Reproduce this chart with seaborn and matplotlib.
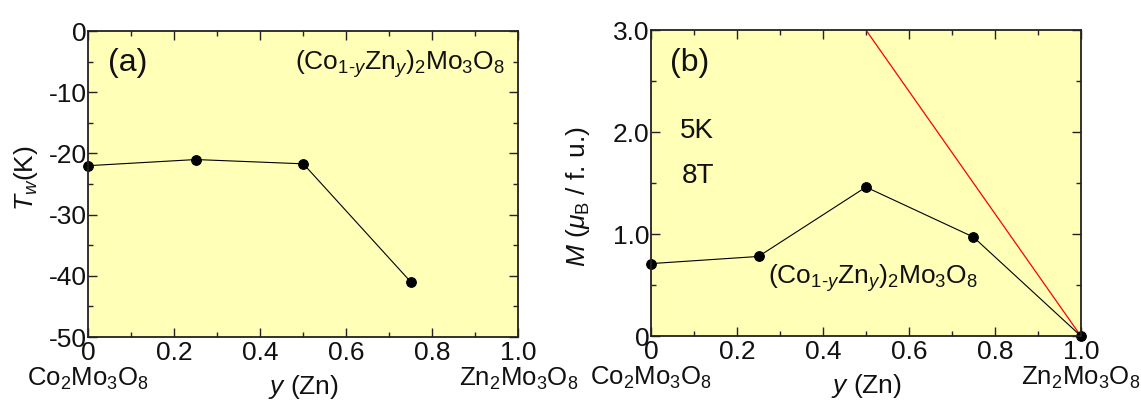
import matplotlib
matplotlib.use("Agg")
import matplotlib.pyplot as plt
import matplotlib.transforms as mtransforms
from matplotlib.ticker import FixedLocator, MultipleLocator
import seaborn as sns

# Weiss temperature vs Zn content
y_tw = [0.0, 0.25, 0.5, 0.75]
tw = [-22.0, -21.0, -21.7, -41.0]

# Magnetization at 5 K, 8 T vs Zn content
y_m = [0.0, 0.25, 0.5, 0.75, 1.0]
mag = [0.71, 0.78, 1.46, 0.97, 0.0]

# Reference line
ref_x = [0.5, 1.0]
ref_m = [3.0, 0.0]

x_ticks = [0.0, 0.2, 0.4, 0.6, 0.8, 1.0]
x_ticklabels = ["0", "0.2", "0.4", "0.6", "0.8", "1.0"]
tw_ticks = [0, -10, -20, -30, -40, -50]
tw_ticklabels = ["0", "-10", "-20", "-30", "-40", "-50"]
m_ticks = [0.0, 1.0, 2.0, 3.0]
m_ticklabels = ["0", "1.0", "2.0", "3.0"]

sns.set_theme(style="ticks")
plt.rcParams["font.family"] = ["Liberation Sans", "DejaVu Sans"]
plt.rcParams["mathtext.fontset"] = "custom"
plt.rcParams["mathtext.rm"] = "Liberation Sans"
plt.rcParams["mathtext.it"] = "Liberation Sans:italic"
plt.rcParams["mathtext.bf"] = "Liberation Sans:bold"
plt.rcParams["axes.unicode_minus"] = False

BG = "#FFFFB8"
INK = "#111111"
TICK_FS = 19
LABEL_FS = 19
COMP_FS = 18.5

fig = plt.figure(figsize=(11.41, 4.04), dpi=100)
ax1 = fig.add_axes([0.0775, 0.1658, 0.3767, 0.7574])
ax2 = fig.add_axes([0.5706, 0.1683, 0.3767, 0.7574])

formula = r"(Co$_{1\text{-}y}$Zn$_{y}$)$_{2}$Mo$_{3}$O$_{8}$"
co = r"Co$_{2}$Mo$_{3}$O$_{8}$"
zn = r"Zn$_{2}$Mo$_{3}$O$_{8}$"


def style_axes(ax, yticks, yticklabels, yminor):
    ax.set_facecolor(BG)
    ax.set_xlim(0, 1)
    ax.xaxis.set_major_locator(FixedLocator(x_ticks))
    ax.set_xticklabels(x_ticklabels)
    ax.xaxis.set_minor_locator(MultipleLocator(0.1))
    ax.yaxis.set_major_locator(FixedLocator(yticks))
    ax.set_yticklabels(yticklabels)
    ax.yaxis.set_minor_locator(MultipleLocator(yminor))
    ax.tick_params(which="both", direction="in", top=True, right=True,
                   color="#222222", width=1.0, labelsize=TICK_FS,
                   labelcolor=INK)
    ax.tick_params(which="major", length=6.5)
    ax.tick_params(which="minor", length=3.5)
    ax.tick_params(axis="y", pad=1)
    ax.tick_params(axis="x", pad=3)
    for s in ax.spines.values():
        s.set_linewidth(1.3)
        s.set_color("#222222")
    ax.set_xlabel(r"$y$ (Zn)", fontsize=LABEL_FS, color=INK)
    ax.xaxis.set_label_coords(0.5, -0.118)
    trans = mtransforms.blended_transform_factory(ax.transData, ax.transAxes)
    ax.text(0.0, -0.138, co, transform=trans, ha="center", va="center",
            fontsize=COMP_FS, color=INK, clip_on=False)
    ax.text(1.0, -0.138, zn, transform=trans, ha="center", va="center",
            fontsize=COMP_FS, color=INK, clip_on=False)


# (a) Weiss temperature
style_axes(ax1, tw_ticks, tw_ticklabels, 5)
ax1.set_ylim(-50, 0)
sns.lineplot(x=y_tw, y=tw, ax=ax1, color="black", linewidth=0.8,
             marker="o", markersize=7, markeredgecolor="black",
             markerfacecolor="black", clip_on=False)
ax1.set_ylabel(r"$T_w$(K)", fontsize=LABEL_FS, color=INK)
ax1.yaxis.set_label_coords(-0.113, 0.519)
ax1.text(0.046, 0.894, "(a)", transform=ax1.transAxes, ha="left",
         va="center", fontsize=23, color=INK)
ax1.text(0.969, 0.892, formula, transform=ax1.transAxes, ha="right",
         va="center", fontsize=19, color=INK)

# (b) Magnetization
style_axes(ax2, m_ticks, m_ticklabels, 0.5)
ax2.set_ylim(0, 3.0)
sns.lineplot(x=ref_x, y=ref_m, ax=ax2, color="red", linewidth=0.9)
sns.lineplot(x=y_m, y=mag, ax=ax2, color="black", linewidth=0.8,
             marker="o", markersize=7, markeredgecolor="black",
             markerfacecolor="black", clip_on=False)
ax2.set_ylabel(r"$M$ ($\mu_{\mathrm{B}}$ / f. u.)", fontsize=LABEL_FS,
               color=INK)
ax2.yaxis.set_label_coords(-0.137, 0.454)
ax2.text(0.044, 0.891, "(b)", transform=ax2.transAxes, ha="left",
         va="center", fontsize=23, color=INK)
trans2 = mtransforms.blended_transform_factory(ax2.transAxes, ax2.transData)
ax2.text(0.107, 2.01, "5K", transform=trans2, ha="center", va="center",
         fontsize=20, color=INK)
ax2.text(0.109, 1.57, "8T", transform=trans2, ha="center", va="center",
         fontsize=20, color=INK)
ax2.text(0.273, 0.566, formula, transform=trans2, ha="left", va="center",
         fontsize=19, color=INK)

for ax in (ax1, ax2):
    leg = ax.get_legend()
    if leg is not None:
        leg.remove()

fig.savefig("out.png", dpi=100, facecolor="white")
